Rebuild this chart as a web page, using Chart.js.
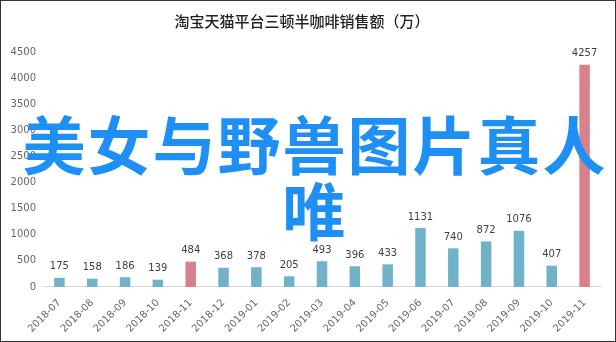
<!DOCTYPE html>
<html>
<head>
<meta charset="utf-8">
<script src="https://cdn.jsdelivr.net/npm/chart.js@4"></script>
<style>
  html, body { margin: 0; padding: 0; background: #fff; }
  #wrap { position: relative; width: 616px; height: 342px; box-sizing: border-box; border: 1px solid #333; }
  #chart { position: absolute; left: 0; top: 0; }
  #mark {
    position: absolute; left: 12px; top: 108px; width: 604px;
    font: bold 63px "Noto Sans CJK SC", sans-serif; line-height: 66px;
    color: #1e8ff5; text-align: center; letter-spacing: 2px; pointer-events: none;
  }
</style>
</head>
<body>
<div id="wrap">
  <canvas id="chart" width="614" height="340"></canvas>
  <div id="mark">美女与野兽图片真人唯</div>
</div>
<script>
// ─── Data ───
const months = ['2018-07', '2018-08', '2018-09', '2018-10', '2018-11', '2018-12', '2019-01', '2019-02', '2019-03',
  '2019-04', '2019-05', '2019-06', '2019-07', '2019-08', '2019-09', '2019-10', '2019-11'];
const sales = [175, 158, 186, 139, 484, 368, 378, 205, 493, 396, 433, 1131, 740, 872, 1076, 407, 4257];
const highlight = ['2018-11', '2019-11'];
const yTicks = [0, 500, 1000, 1500, 2000, 2500, 3000, 3500, 4000, 4500];

const BLUE = '#6fb2ca';
const PINK = '#d9808d';

// ─── Value labels above bars ───
const valueLabels = {
  id: 'valueLabels',
  afterDatasetsDraw(chart) {
    const { ctx } = chart;
    const meta = chart.getDatasetMeta(0);
    ctx.save();
    ctx.font = '10px "DejaVu Sans", sans-serif';
    ctx.fillStyle = '#404040';
    ctx.textAlign = 'center';
    ctx.textBaseline = 'bottom';
    meta.data.forEach((bar, i) => {
      ctx.fillText(String(sales[i]), bar.x, bar.y - 6);
    });
    ctx.restore();
  },
};

new Chart(document.getElementById('chart'), {
  type: 'bar',
  data: {
    labels: months,
    datasets: [{
      data: sales,
      backgroundColor: months.map(m => highlight.includes(m) ? PINK : BLUE),
      barPercentage: 0.32,
      categoryPercentage: 1,
    }],
  },
  options: {
    responsive: false,
    animation: false,
    layout: { padding: { left: 2, right: 14, top: 0, bottom: 4 } },
    plugins: {
      legend: { display: false },
      tooltip: { enabled: false },
      title: {
        display: true,
        text: '淘宝天猫平台三顿半咖啡销售额（万）',
        color: '#222',
        font: { family: '"Noto Sans CJK SC", sans-serif', size: 15, weight: '500' },
        padding: { top: 11, bottom: 22 },
      },
    },
    scales: {
      y: {
        min: 0,
        max: 4500,
        afterBuildTicks: axis => { axis.ticks = yTicks.map(v => ({ value: v })); },
        afterFit: s => { s.width = 40; },
        border: { display: false },
        grid: { display: false, drawTicks: false },
        ticks: {
          color: '#666',
          font: { family: '"DejaVu Sans", sans-serif', size: 10 },
          padding: 7,
          callback: v => String(v),
        },
      },
      x: {
        border: { color: '#d9d9d9' },
        grid: { display: false },
        afterFit: s => { s.paddingLeft = 0; },
        ticks: {
          color: '#666',
          font: { family: '"DejaVu Sans", sans-serif', size: 10 },
          minRotation: 45,
          maxRotation: 45,
          autoSkip: false,
          padding: 2,
        },
      },
    },
  },
  plugins: [valueLabels],
});
</script>
</body>
</html>
